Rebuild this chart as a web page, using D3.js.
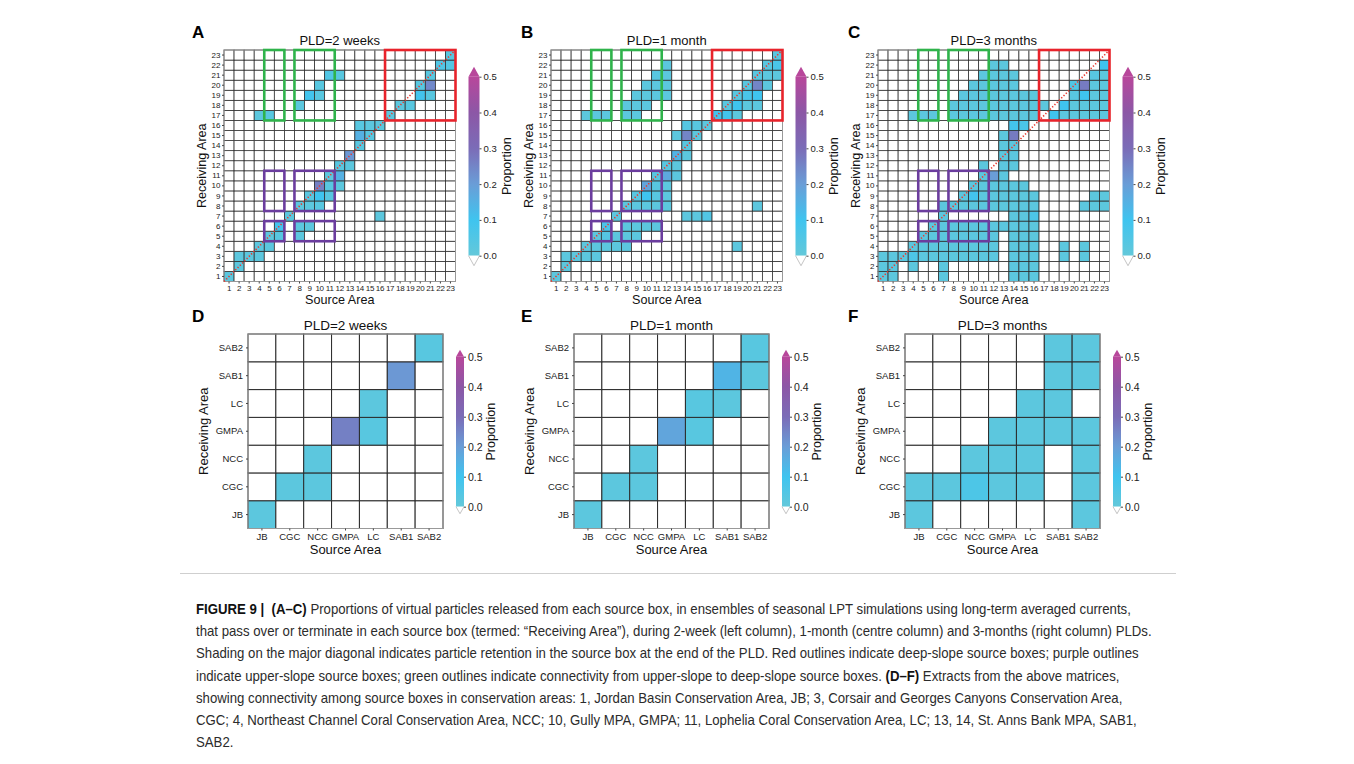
<!DOCTYPE html>
<html>
<head>
<meta charset="utf-8">
<script src="https://cdn.jsdelivr.net/npm/d3@7"></script>
<style>
  body { margin: 0; background: #fff; }
  svg text { font-family: "Liberation Sans", Arial, Helvetica, sans-serif; }
</style>
</head>
<body>
<svg id="fig" width="1354" height="764"></svg>
<script>
// full matrices: source / receiving areas 1..23
const areas = d3.range(1, 24);

// boxes inside conservation areas (panels D-F)
const conservationBoxes = [1, 3, 4, 10, 11, 13, 14];
const conservationLabels = ["JB", "CGC", "NCC", "GMPA", "LC", "SAB1", "SAB2"];

const pldTitles = ["PLD=2 weeks", "PLD=1 month", "PLD=3 months"];
const lettersTop = ["A", "B", "C"];
const lettersBottom = ["D", "E", "F"];
const colorbarTicks = [0, 0.1, 0.2, 0.3, 0.4, 0.5];

// outlines: [source from, source to, receiving from, receiving to]
const deepSlopeBoxes = [[17, 23, 17, 23]];
const upperSlopeBoxes = [[5, 6, 8, 11], [8, 11, 8, 11], [5, 6, 5, 6], [8, 11, 5, 6]];
const upperToDeepBoxes = [[5, 6, 17, 23], [8, 11, 17, 23]];

// [source, receiving, proportion] -- cells not listed are 0
const pld2Weeks = [
  [1, 1, .02],
  [2, 2, .02],
  [2, 3, .02], [3, 3, .02], [4, 3, .02],
  [4, 4, .02], [5, 4, .02],
  [5, 5, .02], [6, 5, .03], [8, 5, .02],
  [6, 6, .09], [8, 6, .02], [9, 6, .02],
  [7, 7, .02], [16, 7, .02],
  [8, 8, .02], [9, 8, .02], [10, 8, .03],
  [9, 9, .03], [10, 9, .1], [11, 9, .03],
  [10, 10, .26], [11, 10, .03], [12, 10, .02],
  [11, 11, .02], [12, 11, .15],
  [12, 12, .03], [13, 12, .02],
  [13, 13, .21],
  [14, 14, .03],
  [14, 15, .15], [15, 15, .03],
  [14, 16, .03], [15, 16, .02], [16, 16, .02],
  [4, 17, .02], [5, 17, .03], [17, 17, .02],
  [8, 18, .02], [18, 18, .02], [19, 18, .03],
  [9, 19, .09], [10, 19, .03], [20, 19, .09], [21, 19, .03],
  [10, 20, .03], [20, 20, .03], [21, 20, .24],
  [11, 21, .05], [12, 21, .03], [21, 21, .03],
  [22, 22, .05], [23, 22, .04],
  [23, 23, .03]
];

const pld1Month = [
  [1, 1, .02],
  [2, 2, .02],
  [2, 3, .02], [3, 3, .02], [4, 3, .02], [5, 3, .02],
  [4, 4, .02], [5, 4, .02], [6, 4, .02], [7, 4, .02], [8, 4, .02], [19, 4, .02],
  [5, 5, .02], [6, 5, .04], [7, 5, .02], [8, 5, .02], [9, 5, .02],
  [6, 6, .07], [8, 6, .02], [9, 6, .02], [10, 6, .02], [11, 6, .02],
  [7, 7, .02], [14, 7, .02], [15, 7, .02], [16, 7, .05],
  [8, 8, .02], [9, 8, .02], [10, 8, .02], [11, 8, .02], [12, 8, .02], [21, 8, .02],
  [9, 9, .03], [10, 9, .1], [11, 9, .03], [12, 9, .02],
  [10, 10, .18], [11, 10, .03], [12, 10, .02],
  [11, 11, .03], [12, 11, .17], [13, 11, .02],
  [12, 12, .03], [13, 12, .02],
  [13, 13, .14], [14, 13, .02],
  [14, 14, .03],
  [13, 15, .02], [14, 15, .25], [15, 15, .02],
  [14, 16, .04], [15, 16, .03], [16, 16, .02],
  [4, 17, .02], [5, 17, .02], [6, 17, .02], [8, 17, .02], [9, 17, .02], [17, 17, .09], [18, 17, .09], [19, 17, .02],
  [8, 18, .02], [9, 18, .02], [10, 18, .02], [18, 18, .03], [19, 18, .1], [20, 18, .02], [21, 18, .02],
  [9, 19, .02], [10, 19, .02], [11, 19, .02], [12, 19, .02], [19, 19, .03], [20, 19, .07], [21, 19, .1],
  [10, 20, .02], [11, 20, .02], [12, 20, .02], [20, 20, .03], [21, 20, .25], [22, 20, .02],
  [11, 21, .03], [12, 21, .02], [21, 21, .03], [22, 21, .02], [23, 21, .02],
  [12, 22, .02], [22, 22, .03], [23, 22, .07],
  [23, 23, .03]
];

const pld3Months = [
  [1, 1, .02], [2, 1, .02], [7, 1, .02], [14, 1, .02], [15, 1, .02], [16, 1, .02],
  [1, 2, .02], [2, 2, .02], [4, 2, .02], [7, 2, .02], [14, 2, .02], [15, 2, .02], [16, 2, .02],
  [1, 3, .02], [2, 3, .02], [3, 3, .02], [4, 3, .06], [5, 3, .02], [6, 3, .02], [7, 3, .02], [8, 3, .02],
  [9, 3, .02], [10, 3, .02], [11, 3, .02], [12, 3, .02], [14, 3, .02], [15, 3, .02], [16, 3, .02], [19, 3, .02], [21, 3, .02],
  [4, 4, .02], [5, 4, .02], [6, 4, .02], [7, 4, .02], [8, 4, .02], [9, 4, .02], [10, 4, .02], [11, 4, .02],
  [12, 4, .02], [14, 4, .02], [15, 4, .02], [16, 4, .02], [19, 4, .02], [21, 4, .02],
  [5, 5, .02], [6, 5, .02], [7, 5, .02], [8, 5, .02], [9, 5, .02], [10, 5, .02], [11, 5, .02], [12, 5, .02],
  [14, 5, .02], [15, 5, .02], [16, 5, .02],
  [6, 6, .02], [7, 6, .02], [8, 6, .02], [9, 6, .02], [10, 6, .02], [11, 6, .02], [12, 6, .02], [13, 6, .02],
  [14, 6, .02], [15, 6, .02], [16, 6, .02],
  [7, 7, .02], [14, 7, .02], [15, 7, .02], [16, 7, .06],
  [7, 8, .02], [8, 8, .02], [9, 8, .02], [10, 8, .02], [11, 8, .02], [12, 8, .02], [13, 8, .02], [14, 8, .02],
  [15, 8, .02], [16, 8, .02], [21, 8, .02], [22, 8, .02], [23, 8, .02],
  [9, 9, .02], [10, 9, .09], [11, 9, .02], [12, 9, .02], [13, 9, .02], [14, 9, .02], [15, 9, .02], [16, 9, .02],
  [22, 9, .02], [23, 9, .02],
  [10, 10, .02], [11, 10, .02], [12, 10, .02], [13, 10, .02], [14, 10, .02], [15, 10, .02],
  [11, 11, .02], [12, 11, .2], [13, 11, .02],
  [11, 12, .02], [13, 12, .02], [14, 12, .02],
  [13, 13, .02], [14, 13, .02],
  [13, 14, .02], [14, 14, .02],
  [13, 15, .02], [14, 15, .27],
  [14, 16, .09], [15, 16, .07],
  [4, 17, .02], [5, 17, .02], [6, 17, .02], [8, 17, .02], [9, 17, .02], [10, 17, .02], [11, 17, .02], [12, 17, .02],
  [13, 17, .02], [14, 17, .02], [15, 17, .02], [16, 17, .02], [18, 17, .1], [19, 17, .02], [20, 17, .02],
  [21, 17, .02], [22, 17, .02], [23, 17, .02],
  [8, 18, .02], [9, 18, .02], [10, 18, .02], [11, 18, .02], [12, 18, .02], [13, 18, .02], [14, 18, .02], [15, 18, .02],
  [16, 18, .02], [17, 18, .02], [19, 18, .1], [20, 18, .02], [21, 18, .02], [22, 18, .02], [23, 18, .02],
  [9, 19, .02], [10, 19, .02], [11, 19, .02], [12, 19, .02], [13, 19, .02], [14, 19, .02], [15, 19, .02], [16, 19, .02],
  [20, 19, .03], [21, 19, .1], [22, 19, .02], [23, 19, .02],
  [10, 20, .02], [11, 20, .02], [12, 20, .02], [13, 20, .02], [14, 20, .02], [20, 20, .05], [21, 20, .27],
  [22, 20, .02], [23, 20, .02],
  [11, 21, .02], [12, 21, .02], [13, 21, .02], [14, 21, .02], [22, 21, .03], [23, 21, .02],
  [12, 22, .02], [13, 22, .02], [23, 22, .1]
];

const matrices = [pld2Weeks, pld1Month, pld3Months];

const captionLines = [
  [["FIGURE 9 |  (A–C)", true], [" Proportions of virtual particles released from each source box, in ensembles of seasonal LPT simulations using long-term averaged currents,", false]],
  [["that pass over or terminate in each source box (termed: “Receiving Area”), during 2-week (left column), 1-month (centre column) and 3-months (right column) PLDs.", false]],
  [["Shading on the major diagonal indicates particle retention in the source box at the end of the PLD. Red outlines indicate deep-slope source boxes; purple outlines", false]],
  [["indicate upper-slope source boxes; green outlines indicate connectivity from upper-slope to deep-slope source boxes. ", false], ["(D–F)", true], [" Extracts from the above matrices,", false]],
  [["showing connectivity among source boxes in conservation areas: 1, Jordan Basin Conservation Area, JB; 3, Corsair and Georges Canyons Conservation Area,", false]],
  [["CGC; 4, Northeast Channel Coral Conservation Area, NCC; 10, Gully MPA, GMPA; 11, Lophelia Coral Conservation Area, LC; 13, 14, St. Anns Bank MPA, SAB1,", false]],
  [["SAB2.", false]]
];

const color = d3.scaleLinear()
  .domain([0, 0.1, 0.2, 0.3, 0.4, 0.5])
  .range(["#63c8da", "#3fc4ef", "#6a9dd7", "#7b6cb7", "#8c57a6", "#b8479b"])
  .clamp(true);

const svg = d3.select("#fig");
svg.append("rect").attr("width", 1354).attr("height", 764).attr("fill", "#fff");
const defs = svg.append("defs");

const grad = defs.append("linearGradient")
  .attr("id", "cmap").attr("x1", 0).attr("y1", 1).attr("x2", 0).attr("y2", 0);
d3.range(0, 0.5001, 0.025).forEach(v => {
  grad.append("stop").attr("offset", v / 0.5).attr("stop-color", color(v));
});

function drawMatrix(opt) {
  const g = svg.append("g");
  const x = d3.scaleBand().domain(opt.cats).range([opt.left, opt.left + opt.w]);
  const y = d3.scaleBand().domain(opt.cats).range([opt.top + opt.h, opt.top]);
  const lookup = new Map(opt.cells.map(d => [d[0] + "-" + d[1], d[2]]));
  const all = opt.cats.flatMap(r => opt.cats.map(s => ({ s, r, v: lookup.get(s + "-" + r) || 0 })));

  g.selectAll("rect.cell")
    .data(all)
    .join("rect")
    .attr("class", "cell")
    .attr("x", d => x(d.s))
    .attr("y", d => y(d.r))
    .attr("width", x.bandwidth())
    .attr("height", y.bandwidth())
    .attr("fill", d => d.v > 0 ? color(d.v) : "#fff")
    .attr("stroke", "#2b2b2b")
    .attr("stroke-width", opt.gridWidth);

  g.append("rect")
    .attr("x", opt.left).attr("y", opt.top).attr("width", opt.w).attr("height", opt.h)
    .attr("fill", "none").attr("stroke", "#999").attr("stroke-width", 1);

  if (opt.diagonal) {
    g.append("line")
      .attr("x1", x(opt.cats[0])).attr("y1", y(opt.cats[0]) + y.bandwidth())
      .attr("x2", x(opt.cats[opt.cats.length - 1]) + x.bandwidth()).attr("y2", y(opt.cats[opt.cats.length - 1]))
      .attr("stroke", "#e8392f").attr("stroke-width", 1.6).attr("stroke-dasharray", "1.3,1.9");
  }

  (opt.outlines || []).forEach(o => {
    o.boxes.forEach(b => {
      g.append("rect")
        .attr("x", x(b[0]))
        .attr("y", y(b[3]))
        .attr("width", x(b[1]) + x.bandwidth() - x(b[0]))
        .attr("height", y(b[2]) + y.bandwidth() - y(b[3]))
        .attr("fill", "none")
        .attr("stroke", o.color)
        .attr("stroke-width", 2.6);
    });
  });

  const fmt = opt.tickFormat;
  const xa = g.append("g")
    .attr("transform", `translate(0,${opt.top + opt.h})`)
    .call(d3.axisBottom(x).tickSize(2).tickPadding(opt.tickPad).tickFormat(fmt));
  const ya = g.append("g")
    .attr("transform", `translate(${opt.left},0)`)
    .call(d3.axisLeft(y).tickSize(2).tickPadding(opt.tickPad).tickFormat(fmt));
  [xa, ya].forEach(a => {
    a.select(".domain").remove();
    a.selectAll(".tick line").attr("stroke", "#444");
    a.selectAll("text")
      .attr("font-family", "'Liberation Sans', Arial, sans-serif")
      .attr("font-size", opt.tickSize)
      .attr("fill", "#222");
  });
  if (opt.narrowX) xa.selectAll("text").attr("letter-spacing", -0.3);

  g.append("text")
    .attr("x", opt.left + opt.w / 2).attr("y", opt.titleY)
    .attr("text-anchor", "middle").attr("font-size", opt.titleSize).attr("fill", "#111")
    .text(opt.title);

  g.append("text")
    .attr("x", opt.left + opt.w / 2).attr("y", opt.xLabelY)
    .attr("text-anchor", "middle").attr("font-size", opt.labelSize).attr("fill", "#111")
    .text("Source Area");

  g.append("text")
    .attr("transform", `translate(${opt.left - opt.yLabelOff},${opt.top + opt.h / 2}) rotate(-90)`)
    .attr("text-anchor", "middle").attr("font-size", opt.labelSize).attr("fill", "#111")
    .text("Receiving Area");

  g.append("text")
    .attr("x", opt.letterX).attr("y", opt.letterY)
    .attr("font-size", 17).attr("font-weight", "bold").attr("fill", "#000")
    .text(opt.letter);

  // colorbar
  const cb = opt.cbar;
  const cx = opt.left + opt.w + cb.off;
  const cy = d3.scaleLinear().domain([0, 0.5]).range([cb.bottom, cb.top]);
  const cg = g.append("g");
  cg.append("rect")
    .attr("x", cx).attr("y", cy(0.5)).attr("width", cb.width).attr("height", cy(0) - cy(0.5))
    .attr("fill", "url(#cmap)");
  cg.append("path")
    .attr("d", `M${cx},${cy(0.5)} L${cx + cb.width / 2},${cy(0.5) - cb.tri} L${cx + cb.width},${cy(0.5)} Z`)
    .attr("fill", color(0.5));
  cg.append("path")
    .attr("d", `M${cx},${cy(0)} L${cx + cb.width / 2},${cy(0) + cb.tri} L${cx + cb.width},${cy(0)}`)
    .attr("fill", "#fff").attr("stroke", "#aaa").attr("stroke-width", 0.7);
  const ca = cg.append("g")
    .attr("transform", `translate(${cx + cb.width},0)`)
    .call(d3.axisRight(cy).tickValues(colorbarTicks).tickFormat(d3.format(".1f")).tickSize(2).tickPadding(2));
  ca.select(".domain").remove();
  ca.selectAll(".tick line").attr("stroke", "#444");
  ca.selectAll("text")
    .attr("font-family", "'DejaVu Sans', sans-serif")
    .attr("font-size", cb.fontSize)
    .attr("fill", "#222");
  cg.append("text")
    .attr("transform", `translate(${opt.left + opt.w + cb.labelOff},${(cb.top + cb.bottom) / 2}) rotate(-90)`)
    .attr("text-anchor", "middle")
    .attr("font-family", "'DejaVu Sans', sans-serif")
    .attr("font-size", cb.labelSize).attr("fill", "#111")
    .text("Proportion");
}

const topLefts = [224, 551, 878];
const bottomLefts = [248, 574, 905];
const topLetterX = [192, 521, 848];

matrices.forEach((cells, i) => {
  drawMatrix({
    cells, cats: areas, tickFormat: d => d,
    left: topLefts[i], top: 50, w: 231.5, h: 231.5,
    gridWidth: 0.75, tickPad: 1.5, tickSize: 8, narrowX: true,
    title: pldTitles[i], titleY: 45, titleSize: 13,
    xLabelY: 304, labelSize: 12.6, yLabelOff: 18,
    letter: lettersTop[i], letterX: topLetterX[i], letterY: 38,
    diagonal: true,
    outlines: [
      { boxes: upperToDeepBoxes, color: "#2fb34b" },
      { boxes: deepSlopeBoxes, color: "#e8232b" },
      { boxes: upperSlopeBoxes, color: "#6b3d9e" }
    ],
    cbar: { off: 13, width: 11, top: 76.7, bottom: 255.7, tri: 10, fontSize: 9.5, labelOff: 55, labelSize: 12.5 }
  });

  const sub = cells.filter(d => conservationBoxes.includes(d[0]) && conservationBoxes.includes(d[1]));
  drawMatrix({
    cells: sub, cats: conservationBoxes,
    tickFormat: d => conservationLabels[conservationBoxes.indexOf(d)],
    left: bottomLefts[i], top: 334, w: 195, h: 194.5,
    gridWidth: 1, tickPad: 3, tickSize: 9.5,
    title: pldTitles[i], titleY: 330, titleSize: 13.5,
    xLabelY: 554, labelSize: 13, yLabelOff: 40,
    letter: lettersBottom[i], letterX: topLetterX[i], letterY: 322,
    diagonal: false, outlines: [],
    cbar: { off: 13, width: 8, top: 356.7, bottom: 506.7, tri: 7, fontSize: 10.5, labelOff: 52, labelSize: 12.5 }
  });
});

// separator and caption
svg.append("line")
  .attr("x1", 180).attr("x2", 1176).attr("y1", 573.5).attr("y2", 573.5)
  .attr("stroke", "#cfcfcf").attr("stroke-width", 1);

const cap = svg.append("g").attr("fill", "#2b2b2b");
const capTexts = captionLines.map((parts, i) => {
  const t = cap.append("text")
    .attr("x", 0).attr("y", 614 + i * 22.2)
    .attr("font-size", 14.8)
    .style("white-space", "pre");
  parts.forEach(p => {
    t.append("tspan").attr("font-weight", p[1] ? "bold" : null).attr("fill", p[1] ? "#111" : null).text(p[0]);
  });
  return t;
});
// condense the caption horizontally to the reference line width
const natural = capTexts[1].node().getComputedTextLength();
cap.attr("transform", `translate(196,0) scale(${956 / natural},1)`);
</script>
</body>
</html>
